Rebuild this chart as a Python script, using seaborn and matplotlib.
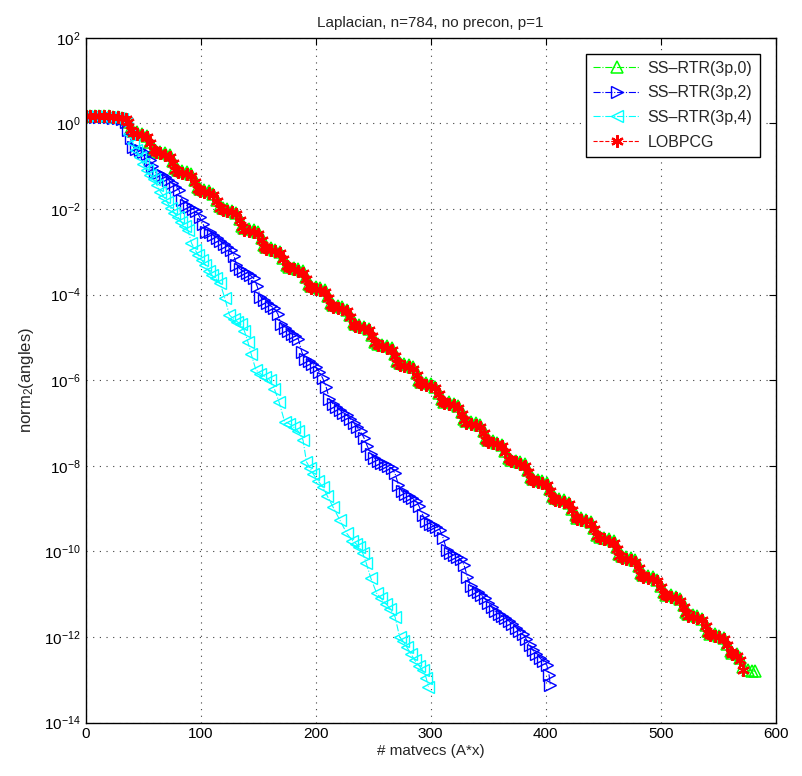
import numpy as np
import pandas as pd
import matplotlib
matplotlib.use("Agg")
import matplotlib.pyplot as plt
import seaborn as sns
from matplotlib.ticker import LogFormatterMathtext, NullLocator, FixedLocator

# ---------------- data (log10 of norm_2(angles)) ----------------
matvecs_rg = [0, 4, 8, 12, 16, 20, 24, 28, 32, 35, 37, 39,
              41, 45, 49, 53, 56, 59,
              61, 65, 69, 73, 76, 78,
              80, 84, 88, 92, 95, 98,
              99, 103, 107, 111, 114, 117,
              119, 123, 127, 131, 134, 136,
              138, 142, 146, 150, 153, 155,
              157, 161, 165, 169, 172, 175,
              177, 181, 185, 189, 192, 194,
              196, 200, 204, 208, 211, 213,
              215, 219, 223, 227, 230, 233,
              234, 238, 242, 246, 249, 252,
              254, 258, 262, 266, 269, 271,
              273, 277, 281, 285, 288, 290,
              292, 296, 300, 304, 307, 310,
              312, 316, 320, 324, 327, 329,
              331, 335, 339, 343, 346, 348,
              350, 354, 358, 362, 365, 368,
              370, 374, 378, 382, 385, 387,
              389, 393, 397, 401, 404, 406,
              408, 412, 416, 420, 423, 426,
              427, 431, 435, 439, 442, 445,
              447, 451, 455, 459, 462, 464,
              466, 470, 474, 478, 481, 483,
              485, 489, 493, 497, 500, 503,
              505, 509, 513, 517, 520, 522,
              524, 528, 532, 536, 539, 541,
              543, 547, 551, 555, 558, 561,
              562, 566, 569, 572]
green_tail_x = [576, 579, 582]

lobpcg_log = [0.18, 0.18, 0.17, 0.17, 0.16, 0.16, 0.15, 0.14, 0.13, 0.11, 0.02, -0.15,
              -0.23, -0.25, -0.28, -0.33, -0.47, -0.63,
              -0.68, -0.70, -0.73, -0.78, -0.92, -1.08,
              -1.13, -1.15, -1.18, -1.23, -1.37, -1.53,
              -1.58, -1.60, -1.63, -1.68, -1.82, -1.98,
              -2.03, -2.05, -2.08, -2.13, -2.27, -2.43,
              -2.49, -2.51, -2.54, -2.59, -2.73, -2.89,
              -2.94, -2.96, -2.99, -3.04, -3.18, -3.34,
              -3.39, -3.41, -3.44, -3.49, -3.63, -3.79,
              -3.84, -3.86, -3.89, -3.94, -4.08, -4.24,
              -4.29, -4.31, -4.34, -4.39, -4.53, -4.69,
              -4.74, -4.76, -4.79, -4.84, -4.98, -5.14,
              -5.19, -5.21, -5.24, -5.29, -5.43, -5.59,
              -5.64, -5.66, -5.69, -5.74, -5.88, -6.04,
              -6.09, -6.11, -6.14, -6.19, -6.33, -6.49,
              -6.54, -6.56, -6.59, -6.64, -6.78, -6.94,
              -7.00, -7.02, -7.05, -7.10, -7.24, -7.40,
              -7.45, -7.47, -7.50, -7.55, -7.69, -7.85,
              -7.90, -7.92, -7.95, -8.00, -8.14, -8.30,
              -8.35, -8.37, -8.40, -8.45, -8.59, -8.75,
              -8.80, -8.82, -8.85, -8.90, -9.04, -9.20,
              -9.25, -9.27, -9.30, -9.35, -9.49, -9.65,
              -9.70, -9.72, -9.75, -9.80, -9.94, -10.10,
              -10.15, -10.17, -10.20, -10.25, -10.39, -10.55,
              -10.60, -10.62, -10.65, -10.70, -10.84, -11.00,
              -11.05, -11.07, -11.10, -11.15, -11.29, -11.45,
              -11.51, -11.53, -11.56, -11.61, -11.75, -11.91,
              -11.96, -11.98, -12.01, -12.06, -12.20, -12.36,
              -12.41, -12.45, -12.55, -12.77]

rtr0_log = [0.18, 0.18, 0.17, 0.17, 0.16, 0.16, 0.15, 0.14, 0.13, 0.11, 0.04, -0.11,
            -0.19, -0.21, -0.24, -0.29, -0.43, -0.59,
            -0.64, -0.66, -0.69, -0.74, -0.88, -1.04,
            -1.09, -1.11, -1.14, -1.19, -1.33, -1.49,
            -1.54, -1.56, -1.59, -1.64, -1.78, -1.94,
            -1.99, -2.01, -2.04, -2.09, -2.23, -2.39,
            -2.45, -2.47, -2.50, -2.55, -2.69, -2.85,
            -2.90, -2.92, -2.95, -3.00, -3.14, -3.30,
            -3.35, -3.37, -3.40, -3.45, -3.59, -3.75,
            -3.80, -3.82, -3.85, -3.90, -4.04, -4.20,
            -4.25, -4.27, -4.30, -4.35, -4.49, -4.65,
            -4.70, -4.72, -4.75, -4.80, -4.94, -5.10,
            -5.15, -5.17, -5.20, -5.25, -5.39, -5.55,
            -5.60, -5.62, -5.65, -5.70, -5.84, -6.00,
            -6.05, -6.07, -6.10, -6.15, -6.29, -6.45,
            -6.50, -6.52, -6.55, -6.60, -6.74, -6.90,
            -6.96, -6.98, -7.01, -7.06, -7.20, -7.36,
            -7.41, -7.43, -7.46, -7.51, -7.65, -7.81,
            -7.86, -7.88, -7.91, -7.96, -8.10, -8.26,
            -8.31, -8.33, -8.36, -8.41, -8.55, -8.71,
            -8.76, -8.78, -8.81, -8.86, -9.00, -9.16,
            -9.21, -9.23, -9.26, -9.31, -9.45, -9.61,
            -9.66, -9.68, -9.71, -9.76, -9.90, -10.06,
            -10.11, -10.13, -10.16, -10.21, -10.35, -10.51,
            -10.56, -10.58, -10.61, -10.66, -10.80, -10.96,
            -11.01, -11.03, -11.06, -11.11, -11.25, -11.41,
            -11.47, -11.49, -11.52, -11.57, -11.71, -11.87,
            -11.92, -11.94, -11.97, -12.02, -12.16, -12.32,
            -12.37, -12.41, -12.50, -12.70, -12.78, -12.79, -12.80]

rtr2_x = [0, 4, 8, 12, 16, 20, 24, 28, 32, 35, 37, 39, 41, 44, 47, 50, 53, 56, 58, 60,
          63, 66, 69, 72, 75, 78, 81, 84, 87, 90, 93, 96, 99, 102, 105, 108, 111, 114,
          117, 120, 123, 126, 129, 131, 134, 137, 140, 143, 146, 149, 152, 155, 158,
          161, 164, 167, 170, 173, 176, 179, 182, 185, 188, 191, 194, 197, 200, 203,
          206, 209, 212, 215, 218, 221, 224, 227, 230, 233, 236, 239, 242, 245, 248,
          251, 254, 257, 260, 263, 266, 269, 272, 275, 278, 281, 284, 287, 290, 293,
          296, 299, 302, 305, 308, 311, 314, 317, 320, 323, 326, 329, 332, 335, 338,
          341, 344, 347, 350, 353, 356, 359, 362, 365, 368, 371, 374, 377, 380, 383,
          386, 389, 392, 395, 398, 401, 403, 404]
rtr2_log = [0.16, 0.16, 0.15, 0.15, 0.14, 0.14, 0.13, 0.12, 0.10, 0.03, -0.15, -0.35,
            -0.55, -0.60, -0.63, -0.66, -0.72, -0.85, -1.00, -1.13,
            -1.17, -1.20, -1.25, -1.32, -1.40, -1.48, -1.55, -1.79, -1.90, -1.95, -2.00,
            -2.05, -2.18, -2.35, -2.53, -2.55, -2.62, -2.68,
            -2.75, -2.82, -2.88, -2.95, -3.10, -3.30, -3.40, -3.45, -3.50, -3.55, -3.62,
            -3.80, -4.05, -4.12, -4.20,
            -4.27, -4.32, -4.45, -4.70, -4.78, -4.85, -4.92, -4.97, -5.05, -5.35, -5.50,
            -5.55, -5.62, -5.69, -5.80,
            -5.95, -6.15, -6.45, -6.55, -6.62, -6.70, -6.76, -6.82, -6.90, -7.00, -7.10,
            -7.20, -7.35, -7.55, -7.72,
            -7.82, -7.88, -7.93, -7.97, -8.01, -8.05, -8.18, -8.45, -8.60, -8.66, -8.71,
            -8.76, -8.82, -8.95, -9.15,
            -9.30, -9.35, -9.39, -9.43, -9.50, -9.70, -9.98, -10.05, -10.09, -10.13,
            -10.18, -10.32, -10.60, -10.82, -10.90,
            -10.96, -11.02, -11.10, -11.20, -11.30, -11.40, -11.46, -11.51, -11.56,
            -11.63, -11.70, -11.78, -11.85, -11.93, -12.05,
            -12.20, -12.31, -12.40, -12.49, -12.57, -12.66, -12.90, -13.12]

rtr4_x = [0, 4, 8, 12, 16, 20, 24, 28, 32, 35, 38, 41, 44, 47, 50, 53, 56, 59, 62, 65,
          68, 71, 74, 77, 80, 83, 86, 89, 92, 95, 98, 101, 104, 107, 110, 113, 117, 121,
          125, 129, 132, 135, 138, 141, 144, 148, 152, 156, 160, 164, 168, 173, 177,
          181, 185, 189, 192, 195, 198, 202, 206, 210, 215, 221, 227, 232, 235, 238,
          241, 244, 248, 253, 257, 261, 265, 269, 273, 276, 279, 283, 286, 290, 293,
          296, 298]
rtr4_log = [0.17, 0.17, 0.16, 0.16, 0.15, 0.15, 0.14, 0.12, 0.09, 0.00, -0.25, -0.45,
            -0.62, -0.78, -0.95, -1.10, -1.20, -1.30, -1.45, -1.60,
            -1.71, -1.85, -1.98, -2.10, -2.18, -2.30, -2.40, -2.50, -2.80, -2.95, -3.08,
            -3.20, -3.30, -3.45, -3.55, -3.62, -3.74, -4.09,
            -4.48, -4.58, -4.64, -4.70, -4.85, -5.10, -5.40, -5.76, -5.85, -5.92, -6.00,
            -6.20, -6.50, -6.97, -7.02,
            -7.10, -7.20, -7.40, -7.91, -8.05, -8.20, -8.35, -8.49, -8.70, -8.96, -9.27,
            -9.58, -9.75, -9.82, -9.90,
            -10.05, -10.28, -10.63, -10.98, -11.10, -11.22, -11.35, -11.53, -12.00,
            -12.10, -12.23, -12.40, -12.54, -12.68, -12.78,
            -12.95, -13.17]

labels = ["SS\u2013RTR(3p,0)", "SS\u2013RTR(3p,2)", "SS\u2013RTR(3p,4)", "LOBPCG"]
colors = ["#00ff00", "#0000ff", "#00ffff", "#ff0000"]
y_ticks_exp = [2, 0, -2, -4, -6, -8, -10, -12, -14]
x_ticks = [0, 100, 200, 300, 400, 500, 600]

# ---------------- figure ----------------
sns.set_style("white")
plt.rcParams["font.family"] = ["Liberation Sans", "DejaVu Sans"]
plt.rcParams["mathtext.fontset"] = "custom"
plt.rcParams["mathtext.rm"] = "Liberation Sans"
plt.rcParams["mathtext.it"] = "Liberation Sans"

fig = plt.figure(figsize=(8.03, 7.76), dpi=100)
ax = fig.add_axes([0.1067, 0.0689, 0.8593, 0.8825])

asterisk = (6, 2, 0)
series = [
    (matvecs_rg + green_tail_x, rtr0_log, labels[0], colors[0], "^", "-.", 9, 1.1),
    (rtr2_x, rtr2_log, labels[1], colors[1], ">", "-.", 9, 1.0),
    (rtr4_x, rtr4_log, labels[2], colors[2], "<", "-.", 9, 1.0),
    (matvecs_rg, lobpcg_log, labels[3], colors[3], asterisk, "--", 9, 1.6),
]

for xs, ys, lab, col, mk, ls, ms, mew in series:
    n = min(len(xs), len(ys))
    df = pd.DataFrame({"matvecs": xs[:n], "angles": 10.0 ** np.array(ys[:n])})
    sns.lineplot(data=df, x="matvecs", y="angles", ax=ax, color=col, linestyle=ls,
                 linewidth=0.8, marker=mk, markersize=ms, markerfacecolor="none",
                 markeredgecolor=col, markeredgewidth=mew,
                 label=lab, sort=False, estimator=None)

ax.set_yscale("log")
ax.set_xlim(0, 600)
ax.set_ylim(1e-14, 1e2)
ax.xaxis.set_major_locator(FixedLocator(x_ticks))
ax.yaxis.set_major_locator(FixedLocator([10.0 ** e for e in y_ticks_exp]))
ax.yaxis.set_minor_locator(NullLocator())
ax.xaxis.set_minor_locator(NullLocator())
ax.yaxis.set_major_formatter(LogFormatterMathtext())

ax.grid(True, which="major", linestyle=(0, (1, 5)), color="0.25", linewidth=0.8)
ax.tick_params(direction="in", top=True, right=True, length=5, width=0.8,
               labelsize=11, colors="k")
for s in ax.spines.values():
    s.set_visible(True)
    s.set_color("k")
    s.set_linewidth(1.0)

ax.set_title("Laplacian, n=784, no precon, p=1", fontsize=11, pad=8)
ax.set_xlabel("# matvecs (A*x)", fontsize=11, labelpad=2)
ax.set_ylabel("norm$_2$(angles)", fontsize=12, labelpad=6)

leg = ax.legend(loc="upper right", frameon=True, fancybox=False, edgecolor="k",
                framealpha=1, handlelength=2.9, fontsize=11.5, borderaxespad=1.0,
                labelspacing=0.6, borderpad=0.45, handletextpad=0.5)
leg.get_frame().set_linewidth(1.0)

fig.savefig("out.png", dpi=100)
